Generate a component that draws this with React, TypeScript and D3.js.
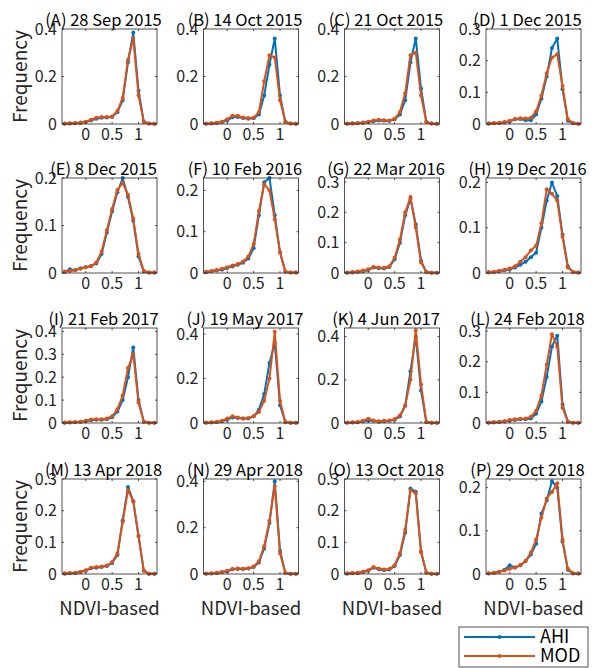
import React, { useRef, useEffect } from "react";
import * as d3 from "d3";

// NDVI bin centres (x axis)
const bins = [-0.4, -0.3, -0.2, -0.1, 0, 0.1, 0.2, 0.3, 0.4, 0.5, 0.6, 0.7, 0.8, 0.9, 1.0, 1.1, 1.2, 1.3];

const titles = [
	"(A) 28 Sep 2015", "(B) 14 Oct 2015", "(C) 21 Oct 2015", "(D) 1 Dec 2015",
	"(E) 8 Dec 2015", "(F) 10 Feb 2016", "(G) 22 Mar 2016", "(H) 19 Dec 2016",
	"(I) 21 Feb 2017", "(J) 19 May 2017", "(K) 4 Jun 2017", "(L) 24 Feb 2018",
	"(M) 13 Apr 2018", "(N) 29 Apr 2018", "(O) 13 Oct 2018", "(P) 29 Oct 2018",
];

const yMax = [0.4, 0.4, 0.4, 0.3, 0.2, 0.23, 0.313, 0.21, 0.415, 0.427, 0.44, 0.31, 0.3, 0.41, 0.3, 0.22];
const yStep = [0.2, 0.2, 0.2, 0.1, 0.1, 0.1, 0.1, 0.1, 0.1, 0.2, 0.2, 0.1, 0.1, 0.2, 0.1, 0.1];

const ahi = [
	[0.001, 0.002, 0.003, 0.005, 0.008, 0.015, 0.022, 0.026, 0.027, 0.03, 0.05, 0.1, 0.26, 0.385, 0.14, 0.01, 0.002, 0.001],
	[0.001, 0.002, 0.004, 0.008, 0.015, 0.028, 0.03, 0.025, 0.022, 0.024, 0.04, 0.12, 0.25, 0.36, 0.12, 0.01, 0.002, 0.001],
	[0.001, 0.002, 0.003, 0.005, 0.008, 0.012, 0.015, 0.014, 0.013, 0.02, 0.04, 0.1, 0.26, 0.36, 0.15, 0.01, 0.002, 0.001],
	[0.001, 0.002, 0.003, 0.005, 0.008, 0.015, 0.016, 0.012, 0.012, 0.03, 0.08, 0.15, 0.24, 0.27, 0.11, 0.01, 0.002, 0.001],
	[0.002, 0.008, 0.006, 0.01, 0.012, 0.015, 0.02, 0.04, 0.085, 0.13, 0.17, 0.2, 0.16, 0.11, 0.035, 0.003, 0.001, 0.001],
	[0.002, 0.004, 0.006, 0.008, 0.012, 0.016, 0.02, 0.025, 0.035, 0.06, 0.14, 0.22, 0.23, 0.14, 0.05, 0.003, 0.001, 0.001],
	[0.001, 0.002, 0.004, 0.006, 0.01, 0.018, 0.016, 0.015, 0.02, 0.045, 0.1, 0.19, 0.245, 0.16, 0.04, 0.003, 0.001, 0.001],
	[0.001, 0.002, 0.004, 0.006, 0.008, 0.012, 0.018, 0.025, 0.035, 0.045, 0.1, 0.16, 0.2, 0.17, 0.085, 0.015, 0.002, 0.001],
	[0.001, 0.002, 0.003, 0.005, 0.008, 0.012, 0.014, 0.014, 0.016, 0.025, 0.05, 0.1, 0.2, 0.33, 0.1, 0.005, 0.001, 0.001],
	[0.001, 0.002, 0.004, 0.008, 0.015, 0.025, 0.022, 0.02, 0.02, 0.03, 0.06, 0.13, 0.27, 0.36, 0.08, 0.005, 0.001, 0.001],
	[0.001, 0.002, 0.004, 0.008, 0.012, 0.01, 0.006, 0.008, 0.01, 0.015, 0.03, 0.08, 0.24, 0.4, 0.15, 0.005, 0.001, 0.001],
	[0.001, 0.002, 0.003, 0.005, 0.008, 0.01, 0.012, 0.012, 0.015, 0.03, 0.07, 0.15, 0.25, 0.285, 0.06, 0.005, 0.001, 0.001],
	[0.001, 0.002, 0.003, 0.006, 0.01, 0.018, 0.02, 0.022, 0.025, 0.035, 0.06, 0.17, 0.275, 0.23, 0.12, 0.01, 0.001, 0.001],
	[0.001, 0.002, 0.004, 0.008, 0.012, 0.02, 0.022, 0.022, 0.024, 0.03, 0.05, 0.11, 0.22, 0.4, 0.1, 0.005, 0.001, 0.001],
	[0.001, 0.002, 0.003, 0.006, 0.01, 0.02, 0.015, 0.012, 0.014, 0.025, 0.06, 0.13, 0.27, 0.26, 0.07, 0.005, 0.001, 0.001],
	[0.001, 0.003, 0.005, 0.01, 0.02, 0.015, 0.02, 0.03, 0.045, 0.07, 0.14, 0.17, 0.215, 0.2, 0.075, 0.01, 0.001, 0.001],
];

const mod = [
	[0.002, 0.003, 0.004, 0.006, 0.01, 0.018, 0.026, 0.03, 0.03, 0.032, 0.055, 0.11, 0.27, 0.36, 0.12, 0.008, 0.002, 0.001],
	[0.002, 0.003, 0.005, 0.01, 0.02, 0.035, 0.035, 0.027, 0.025, 0.026, 0.05, 0.18, 0.29, 0.28, 0.1, 0.008, 0.002, 0.001],
	[0.002, 0.003, 0.004, 0.006, 0.01, 0.015, 0.018, 0.016, 0.015, 0.022, 0.05, 0.13, 0.29, 0.3, 0.12, 0.008, 0.002, 0.001],
	[0.002, 0.003, 0.004, 0.006, 0.01, 0.016, 0.018, 0.017, 0.02, 0.04, 0.09, 0.16, 0.21, 0.22, 0.12, 0.015, 0.003, 0.001],
	[0.003, 0.004, 0.006, 0.009, 0.012, 0.014, 0.022, 0.045, 0.09, 0.135, 0.175, 0.19, 0.165, 0.115, 0.04, 0.004, 0.001, 0.001],
	[0.003, 0.005, 0.007, 0.01, 0.014, 0.018, 0.022, 0.028, 0.04, 0.07, 0.15, 0.215, 0.2, 0.13, 0.05, 0.004, 0.001, 0.001],
	[0.002, 0.003, 0.005, 0.008, 0.012, 0.02, 0.018, 0.017, 0.022, 0.05, 0.11, 0.2, 0.25, 0.15, 0.035, 0.003, 0.001, 0.001],
	[0.002, 0.003, 0.005, 0.007, 0.01, 0.015, 0.025, 0.035, 0.05, 0.06, 0.11, 0.185, 0.175, 0.16, 0.08, 0.012, 0.002, 0.001],
	[0.002, 0.003, 0.004, 0.006, 0.01, 0.015, 0.016, 0.016, 0.02, 0.03, 0.06, 0.12, 0.24, 0.3, 0.09, 0.005, 0.001, 0.001],
	[0.002, 0.003, 0.005, 0.01, 0.02, 0.03, 0.025, 0.02, 0.022, 0.03, 0.05, 0.1, 0.2, 0.41, 0.1, 0.005, 0.001, 0.001],
	[0.002, 0.003, 0.005, 0.01, 0.02, 0.012, 0.008, 0.01, 0.012, 0.018, 0.035, 0.08, 0.2, 0.43, 0.18, 0.005, 0.001, 0.001],
	[0.002, 0.003, 0.004, 0.006, 0.01, 0.012, 0.014, 0.015, 0.02, 0.04, 0.09, 0.19, 0.29, 0.25, 0.05, 0.004, 0.001, 0.001],
	[0.002, 0.003, 0.004, 0.007, 0.012, 0.02, 0.022, 0.024, 0.027, 0.038, 0.065, 0.165, 0.265, 0.23, 0.12, 0.01, 0.001, 0.001],
	[0.002, 0.003, 0.005, 0.009, 0.014, 0.022, 0.024, 0.023, 0.025, 0.032, 0.055, 0.12, 0.23, 0.38, 0.09, 0.005, 0.001, 0.001],
	[0.002, 0.003, 0.004, 0.007, 0.012, 0.022, 0.017, 0.014, 0.016, 0.028, 0.065, 0.14, 0.265, 0.255, 0.07, 0.005, 0.001, 0.001],
	[0.002, 0.003, 0.005, 0.008, 0.012, 0.015, 0.02, 0.03, 0.05, 0.08, 0.13, 0.175, 0.19, 0.21, 0.08, 0.012, 0.002, 0.001],
];

const xTicks = [0, 0.5, 1];
const seriesNames = ["AHI", "MOD"];
const colors = ["#0072BD", "#D95319"];

const App = () => {
	const chartRef = useRef<SVGSVGElement>(null);

	useEffect(() => {
		const width = 601;
		const height = 668;
		const colLeft = [62, 203.5, 344.5, 486];
		const rowTop = [29, 178, 328, 479];
		const pw = 95;
		const ph = 95;
		const font = "'Noto Sans CJK JP', 'Noto Sans', sans-serif";
		const ink = "#262626";

		d3.select(chartRef.current).selectAll("*").remove();
		const svg = d3.select(chartRef.current)
			.attr("width", width)
			.attr("height", height)
			.style("font-family", font);

		svg.append("rect").attr("width", width).attr("height", height).attr("fill", "white");

		const fmt = d3.format(".1~f");

		titles.forEach((title, i) => {
			const r = Math.floor(i / 4);
			const c = i % 4;
			const left = colLeft[c];
			const top = rowTop[r];

			const x = d3.scaleLinear().domain([-0.45, 1.35]).range([left, left + pw]);
			const y = d3.scaleLinear().domain([0, yMax[i]]).range([top + ph, top]);
			const yTicks = d3.range(0, yMax[i] + 1e-6, yStep[i]);

			const g = svg.append("g");

			g.append("rect")
				.attr("x", left).attr("y", top)
				.attr("width", pw).attr("height", ph)
				.attr("fill", "white");

			// series, MOD drawn last so it sits on top
			[ahi[i], mod[i]].forEach((vals, s) => {
				const pts = bins.map((b, k) => [b, vals[k]] as [number, number]);
				const line = d3.line<[number, number]>().x(d => x(d[0])).y(d => y(d[1]));
				g.append("path")
					.attr("d", line(pts))
					.attr("fill", "none")
					.attr("stroke", colors[s])
					.attr("stroke-width", 2)
					.attr("stroke-linejoin", "round");
				g.selectAll(null)
					.data(pts)
					.enter()
					.append("circle")
					.attr("cx", d => x(d[0]))
					.attr("cy", d => y(d[1]))
					.attr("r", 2)
					.attr("fill", colors[s]);
			});

			// box
			g.append("rect")
				.attr("x", left).attr("y", top)
				.attr("width", pw).attr("height", ph)
				.attr("fill", "none")
				.attr("stroke", ink)
				.attr("stroke-width", 0.8);

			// ticks point inward, on all four sides
			xTicks.forEach(t => {
				g.append("line").attr("x1", x(t)).attr("x2", x(t)).attr("y1", top + ph).attr("y2", top + ph - 2).attr("stroke", ink).attr("stroke-width", 0.8);
				g.append("line").attr("x1", x(t)).attr("x2", x(t)).attr("y1", top).attr("y2", top + 2).attr("stroke", ink).attr("stroke-width", 0.8);
				g.append("text")
					.attr("x", x(t)).attr("y", top + ph + 16)
					.attr("text-anchor", "middle")
					.attr("font-size", 16)
					.attr("fill", ink)
					.text(fmt(t));
			});
			yTicks.forEach(t => {
				g.append("line").attr("x1", left).attr("x2", left + 2).attr("y1", y(t)).attr("y2", y(t)).attr("stroke", ink).attr("stroke-width", 0.8);
				g.append("line").attr("x1", left + pw).attr("x2", left + pw - 2).attr("y1", y(t)).attr("y2", y(t)).attr("stroke", ink).attr("stroke-width", 0.8);
				g.append("text")
					.attr("x", left - 5).attr("y", y(t))
					.attr("dy", "0.35em")
					.attr("text-anchor", "end")
					.attr("font-size", 16)
					.attr("fill", ink)
					.text(fmt(t));
			});

			g.append("text")
				.attr("x", left + pw / 2 - 6).attr("y", top - 3)
				.attr("text-anchor", "middle")
				.attr("font-size", 16.5)
				.attr("fill", "#000")
				.text(title);

			if (c === 0) {
				g.append("text")
					.attr("transform", `translate(27,${top + ph / 2}) rotate(-90)`)
					.attr("text-anchor", "middle")
					.attr("font-size", 19)
					.attr("fill", ink)
					.text("Frequency");
			}
			if (r === 3) {
				g.append("text")
					.attr("x", left + pw / 2).attr("y", top + ph + 41)
					.attr("text-anchor", "middle")
					.attr("font-size", 18.5)
					.attr("fill", ink)
					.text("NDVI-based");
			}
		});

		// Legend
		const lg = svg.append("g");
		lg.append("rect")
			.attr("x", 459).attr("y", 627)
			.attr("width", 129).attr("height", 40)
			.attr("fill", "white")
			.attr("stroke", ink)
			.attr("stroke-width", 0.8);
		seriesNames.forEach((name, s) => {
			const cy = 637 + s * 19;
			lg.append("line").attr("x1", 464).attr("x2", 535).attr("y1", cy).attr("y2", cy).attr("stroke", colors[s]).attr("stroke-width", 2);
			lg.append("circle").attr("cx", 499.5).attr("cy", cy).attr("r", 2).attr("fill", colors[s]);
			lg.append("text")
				.attr("x", 540).attr("y", cy)
				.attr("dy", "0.35em")
				.attr("font-size", 18)
				.attr("fill", "#000")
				.text(name);
		});
	}, []);

	return (
		<div style={{ position: "absolute", left: 0, top: 0 }}>
			<svg ref={chartRef}></svg>
		</div>
	);
};

export default App;
